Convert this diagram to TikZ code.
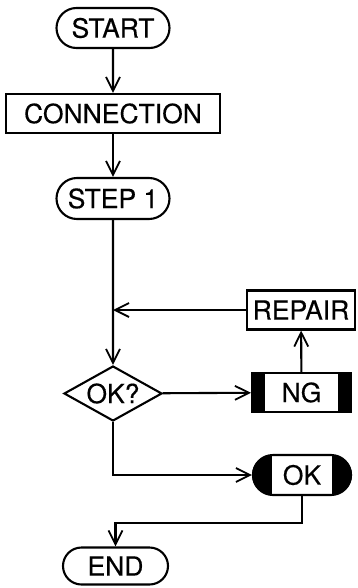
\documentclass[tikz,border=0pt]{standalone}
\usepackage{fontspec}
\setmainfont{TeX Gyre Heros}[FakeBold=0.3]
\usetikzlibrary{shapes.geometric,shapes.misc,arrows.meta,calc}
\tikzset{
  lbl/.style={font=\fontsize{26.5}{30}\selectfont, inner sep=0pt, line width=2.1pt},
  term/.style={lbl, draw, rounded rectangle},
  proc/.style={lbl, draw, rectangle},
  dec/.style={lbl, draw, diamond, aspect=1.78},
  arr/.style={line width=2.1pt, -{Straight Barb[length=14pt,width=14pt,line width=1.8pt]}},
  ln/.style={line width=2.1pt}
}
\begin{document}
\begin{tikzpicture}[x=1pt,y=-1pt]
\useasboundingbox (0,0) rectangle (357,588);
\node[term, minimum width=113pt, minimum height=40pt] (start) at (113,28) {START};
\node[proc, minimum width=214pt, minimum height=39pt] (conn) at (113,113.5) {CONNECTION};
\node[term, minimum width=113pt, minimum height=41pt] (step) at (113,198.5) {STEP 1};
\node[proc, minimum width=108pt, minimum height=39pt] (repair) at (301,310) {REPAIR};
\node[dec, minimum width=98pt, minimum height=55pt] (okq) at (113,393.5) {OK?};
\node[proc, minimum width=99pt, minimum height=39pt] (ng) at (301.5,392.5) {NG};
\node[term, minimum width=98pt, minimum height=40pt] (ok) at (302,475) {OK};
\node[term, minimum width=105pt, minimum height=37pt] (end) at (115.5,566) {END};
% black bars of NG
\fill (ng.north west) rectangle ([xshift=14pt]ng.south west);
\fill (ng.north east) rectangle ([xshift=-14pt]ng.south east);
% black caps of OK
\fill ($(ok.west)+(20,-20)$) arc[start angle=90, end angle=270, radius=20pt] -- cycle;
\fill ($(ok.east)+(-20,20)$) arc[start angle=-90, end angle=90, radius=20pt] -- cycle;
\coordinate (j1) at (step |- repair);
% connectors
\draw[arr] (start) -- (conn);
\draw[arr] (conn) -- (step);
\draw[arr] (step) -- (okq);
\draw[arr] (repair) -- (j1);
\draw[arr] (okq) -- (ng);
\draw[arr] (ng) -- (repair);
\draw[arr] (okq.south) |- (ok.west);
\draw[arr] (ok.south) -- ++(0,27) -| (end.north);
\end{tikzpicture}
\end{document}
